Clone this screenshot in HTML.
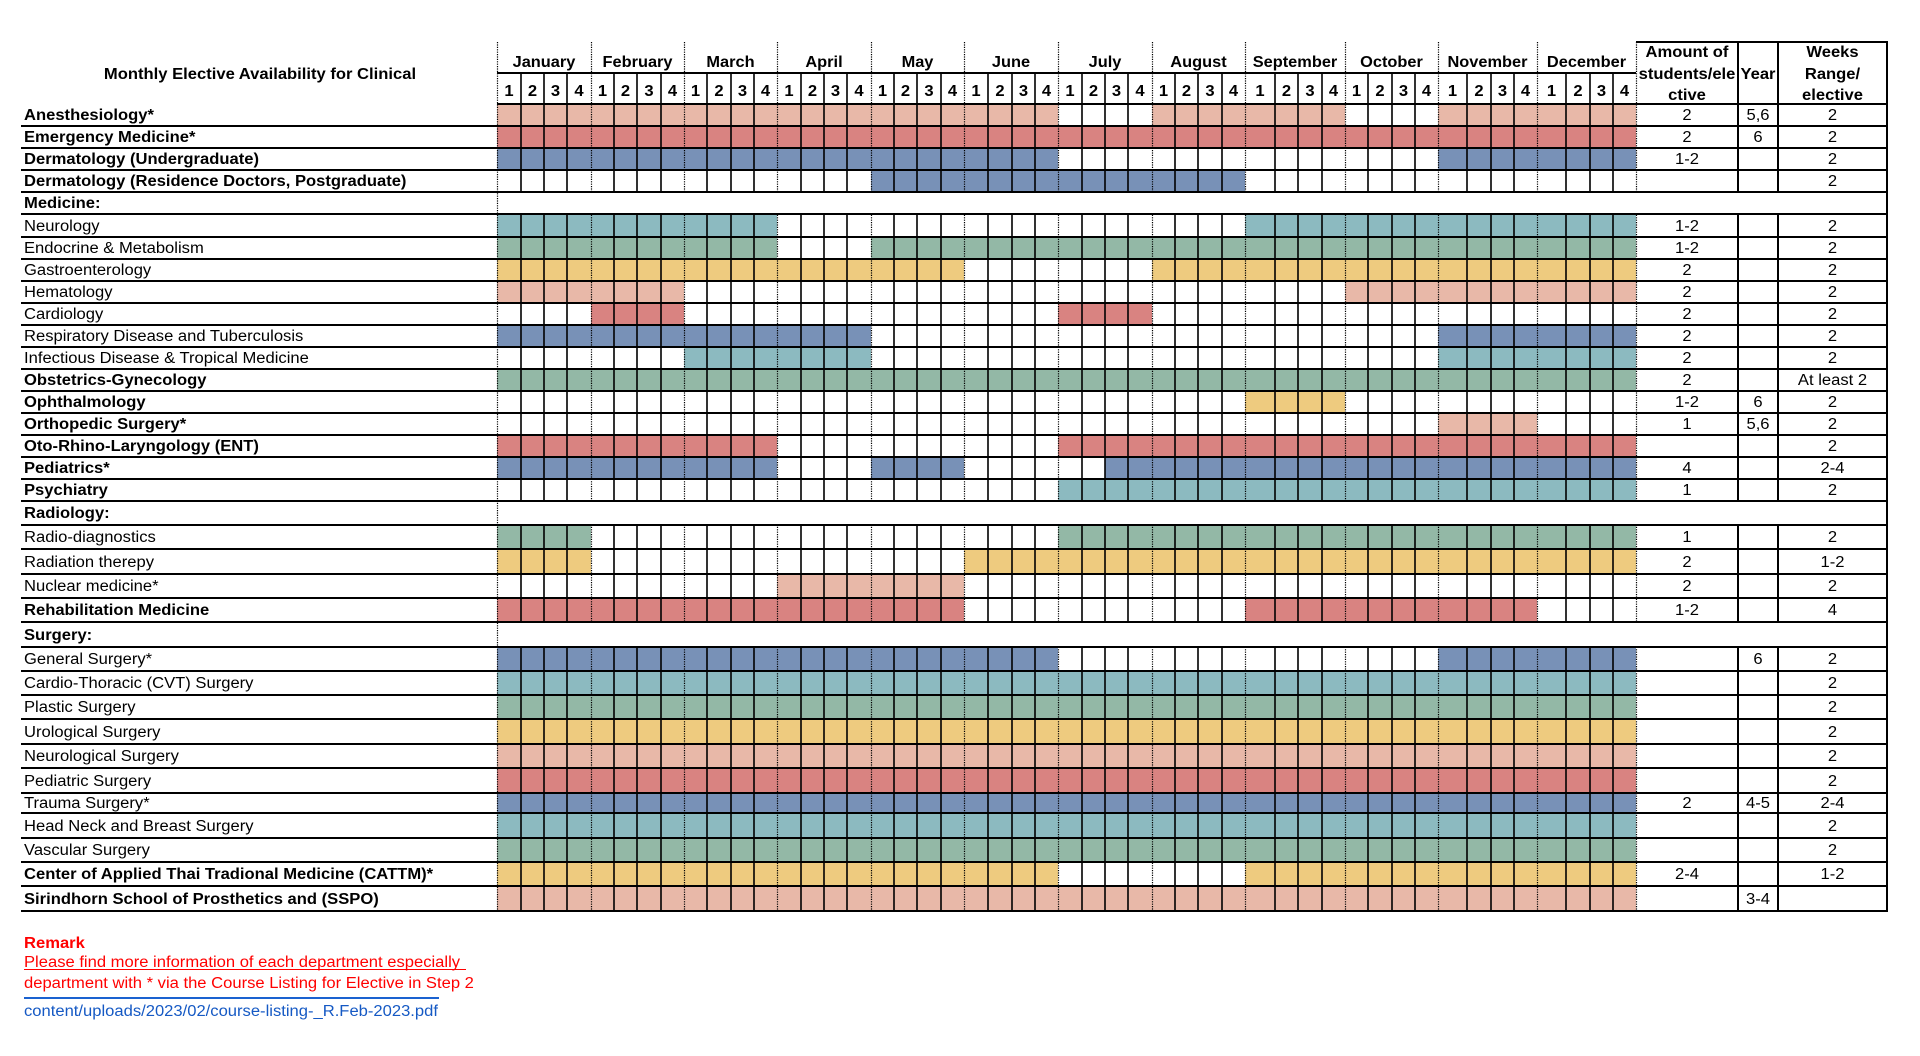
<!DOCTYPE html>
<html>
<head>
<meta charset="utf-8">
<style>
html,body{margin:0;padding:0;}
body{width:1920px;height:1056px;position:relative;overflow:hidden;background:#fff;font-family:"Liberation Sans",Arial,sans-serif;}
svg{position:absolute;left:0;top:0;}
.S{fill:#E8B8A8}.R{fill:#D98381}.B{fill:#7891B7}.T{fill:#8CBAC0}.G{fill:#93B8A6}.Y{fill:#EECB7F}
.t{position:absolute;white-space:nowrap;font-size:15.5px;line-height:15.5px;color:#000;transform:scaleX(1.07);margin-top:1px;}
.l{left:24px;transform-origin:0 50%;}
.c{text-align:center;transform-origin:50% 50%;}
.b{font-weight:bold;}
.m{font-size:15.3px;line-height:15.5px;top:54.5px;font-weight:bold;margin-top:0;}
.w{top:84.4px;font-weight:bold;margin-top:0;}
.a{left:1636px;width:102px;}
.y{left:1738px;width:40px;}
.k{left:1778px;width:109px;}
</style>
</head>
<body>
<svg width="1920" height="1056" viewBox="0 0 1920 1056">
<g>
<rect class="S" x="497" y="104" width="561" height="22"/><rect class="S" x="1152" y="104" width="193" height="22"/><rect class="S" x="1438" y="104" width="198" height="22"/>
<rect class="R" x="497" y="126" width="1139" height="22"/>
<rect class="B" x="497" y="148" width="561" height="22"/><rect class="B" x="1438" y="148" width="198" height="22"/>
<rect class="B" x="871" y="170" width="374" height="22"/>
<rect class="T" x="497" y="214" width="280" height="23"/><rect class="T" x="1245" y="214" width="391" height="23"/>
<rect class="G" x="497" y="237" width="280" height="22"/><rect class="G" x="871" y="237" width="765" height="22"/>
<rect class="Y" x="497" y="259" width="467" height="22"/><rect class="Y" x="1152" y="259" width="484" height="22"/>
<rect class="S" x="497" y="281" width="187" height="22"/><rect class="S" x="1345" y="281" width="291" height="22"/>
<rect class="R" x="591" y="303" width="93" height="22"/><rect class="R" x="1058" y="303" width="94" height="22"/>
<rect class="B" x="497" y="325" width="374" height="22"/><rect class="B" x="1438" y="325" width="198" height="22"/>
<rect class="T" x="684" y="347" width="187" height="22"/><rect class="T" x="1438" y="347" width="198" height="22"/>
<rect class="G" x="497" y="369" width="1139" height="22"/>
<rect class="Y" x="1245" y="391" width="100" height="22"/>
<rect class="S" x="1438" y="413" width="99" height="22"/>
<rect class="R" x="497" y="435" width="280" height="22"/><rect class="R" x="1058" y="435" width="578" height="22"/>
<rect class="B" x="497" y="457" width="280" height="22"/><rect class="B" x="871" y="457" width="93" height="22"/><rect class="B" x="1105" y="457" width="531" height="22"/>
<rect class="T" x="1058" y="479" width="578" height="22"/>
<rect class="G" x="497" y="525" width="94" height="24"/><rect class="G" x="1058" y="525" width="578" height="24"/>
<rect class="Y" x="497" y="549" width="94" height="25"/><rect class="Y" x="964" y="549" width="672" height="25"/>
<rect class="S" x="777" y="574" width="187" height="24"/>
<rect class="R" x="497" y="598" width="467" height="24"/><rect class="R" x="1245" y="598" width="292" height="24"/>
<rect class="B" x="497" y="647" width="561" height="24"/><rect class="B" x="1438" y="647" width="198" height="24"/>
<rect class="T" x="497" y="671" width="1139" height="24"/>
<rect class="G" x="497" y="695" width="1139" height="24"/>
<rect class="Y" x="497" y="719" width="1139" height="25"/>
<rect class="S" x="497" y="744" width="1139" height="24"/>
<rect class="R" x="497" y="768" width="1139" height="25"/>
<rect class="B" x="497" y="793" width="1139" height="20"/>
<rect class="T" x="497" y="813" width="1139" height="25"/>
<rect class="G" x="497" y="838" width="1139" height="24"/>
<rect class="Y" x="497" y="862" width="561" height="24"/><rect class="Y" x="1245" y="862" width="391" height="24"/>
<rect class="S" x="497" y="886" width="1139" height="25"/>
</g>
<path stroke="#000" stroke-width="1.6" fill="none" d="M521 73V911M544 73V911M567 73V911M614 73V911M637 73V911M661 73V911M707 73V911M731 73V911M754 73V911M801 73V911M824 73V911M847 73V911M894 73V911M917 73V911M941 73V911M988 73V911M1012 73V911M1035 73V911M1082 73V911M1105 73V911M1128 73V911M1175 73V911M1198 73V911M1222 73V911M1275 73V911M1298 73V911M1322 73V911M1368 73V911M1392 73V911M1415 73V911M1467 73V911M1491 73V911M1514 73V911M1566 73V911M1590 73V911M1613 73V911"/>
<path stroke="#000" stroke-width="1.2" stroke-dasharray="1.2 1.2" fill="none" d="M591.5 42V911M684.5 42V911M777.5 42V911M871.5 42V911M964.5 42V911M1058.5 42V911M1152.5 42V911M1245.5 42V911M1345.5 42V911M1438.5 42V911M1537.5 42V911M1636.5 42V911"/>
<path stroke="#000" stroke-width="2" fill="none" d="M1738 42V911M1778 42V911"/>
<rect x="498.5" y="193" width="1387.5" height="20" fill="#fff"/>
<rect x="498.5" y="502" width="1387.5" height="22" fill="#fff"/>
<rect x="498.5" y="623" width="1387.5" height="23" fill="#fff"/>
<path stroke="#000" stroke-width="1.2" stroke-dasharray="1.2 1.2" fill="none" d="M497.5 42V911"/>
<path stroke="#000" stroke-width="2" fill="none" d="M1887 41V912"/>
<path stroke="#000" stroke-width="2" fill="none" d="M1636 42H1888M497 73H1636M497 104H1888M21 126H1888M21 148H1888M21 170H1888M21 192H1888M21 214H1888M21 237H1888M21 259H1888M21 281H1888M21 303H1888M21 325H1888M21 347H1888M21 369H1888M21 391H1888M21 413H1888M21 435H1888M21 457H1888M21 479H1888M21 501H1888M21 525H1888M21 549H1888M21 574H1888M21 598H1888M21 622H1888M21 647H1888M21 671H1888M21 695H1888M21 719H1888M21 744H1888M21 768H1888M21 793H1888M21 813H1888M21 838H1888M21 862H1888M21 886H1888M21 911H1888"/>
</svg>

<div class="t c b" style="left:0;width:520px;top:65.8px">Monthly Elective Availability for Clinical</div>

<div class="t c m" style="left:497px;width:94px">January</div>
<div class="t c m" style="left:591px;width:93px">February</div>
<div class="t c m" style="left:684px;width:93px">March</div>
<div class="t c m" style="left:777px;width:94px">April</div>
<div class="t c m" style="left:871px;width:93px">May</div>
<div class="t c m" style="left:964px;width:94px">June</div>
<div class="t c m" style="left:1058px;width:94px">July</div>
<div class="t c m" style="left:1152px;width:93px">August</div>
<div class="t c m" style="left:1245px;width:100px">September</div>
<div class="t c m" style="left:1345px;width:93px">October</div>
<div class="t c m" style="left:1438px;width:99px">November</div>
<div class="t c m" style="left:1537px;width:99px">December</div>

<div class="t c w" style="left:497px;width:24px">1</div><div class="t c w" style="left:521px;width:23px">2</div><div class="t c w" style="left:544px;width:23px">3</div><div class="t c w" style="left:567px;width:24px">4</div>
<div class="t c w" style="left:591px;width:23px">1</div><div class="t c w" style="left:614px;width:23px">2</div><div class="t c w" style="left:637px;width:24px">3</div><div class="t c w" style="left:661px;width:23px">4</div>
<div class="t c w" style="left:684px;width:23px">1</div><div class="t c w" style="left:707px;width:24px">2</div><div class="t c w" style="left:731px;width:23px">3</div><div class="t c w" style="left:754px;width:23px">4</div>
<div class="t c w" style="left:777px;width:24px">1</div><div class="t c w" style="left:801px;width:23px">2</div><div class="t c w" style="left:824px;width:23px">3</div><div class="t c w" style="left:847px;width:24px">4</div>
<div class="t c w" style="left:871px;width:23px">1</div><div class="t c w" style="left:894px;width:23px">2</div><div class="t c w" style="left:917px;width:24px">3</div><div class="t c w" style="left:941px;width:23px">4</div>
<div class="t c w" style="left:964px;width:24px">1</div><div class="t c w" style="left:988px;width:24px">2</div><div class="t c w" style="left:1012px;width:23px">3</div><div class="t c w" style="left:1035px;width:23px">4</div>
<div class="t c w" style="left:1058px;width:24px">1</div><div class="t c w" style="left:1082px;width:23px">2</div><div class="t c w" style="left:1105px;width:23px">3</div><div class="t c w" style="left:1128px;width:24px">4</div>
<div class="t c w" style="left:1152px;width:23px">1</div><div class="t c w" style="left:1175px;width:23px">2</div><div class="t c w" style="left:1198px;width:24px">3</div><div class="t c w" style="left:1222px;width:23px">4</div>
<div class="t c w" style="left:1245px;width:30px">1</div><div class="t c w" style="left:1275px;width:23px">2</div><div class="t c w" style="left:1298px;width:24px">3</div><div class="t c w" style="left:1322px;width:23px">4</div>
<div class="t c w" style="left:1345px;width:23px">1</div><div class="t c w" style="left:1368px;width:24px">2</div><div class="t c w" style="left:1392px;width:23px">3</div><div class="t c w" style="left:1415px;width:23px">4</div>
<div class="t c w" style="left:1438px;width:29px">1</div><div class="t c w" style="left:1467px;width:24px">2</div><div class="t c w" style="left:1491px;width:23px">3</div><div class="t c w" style="left:1514px;width:23px">4</div>
<div class="t c w" style="left:1537px;width:29px">1</div><div class="t c w" style="left:1566px;width:24px">2</div><div class="t c w" style="left:1590px;width:23px">3</div><div class="t c w" style="left:1613px;width:23px">4</div>

<div class="t c b a" style="top:44px">Amount of</div>
<div class="t c b a" style="top:65.5px">students/ele</div>
<div class="t c b a" style="top:87px">ctive</div>
<div class="t c b y" style="top:65.5px">Year</div>
<div class="t c b k" style="top:44px">Weeks</div>
<div class="t c b k" style="top:65.5px">Range/</div>
<div class="t c b k" style="top:87px">elective</div>

<div class="t l b" style="top:104px;line-height:22px">Anesthesiology*</div>
<div class="t l b" style="top:126px;line-height:22px">Emergency Medicine*</div>
<div class="t l b" style="top:148px;line-height:22px">Dermatology (Undergraduate)</div>
<div class="t l b" style="top:170px;line-height:22px">Dermatology (Residence Doctors, Postgraduate)</div>
<div class="t l b" style="top:192px;line-height:22px">Medicine:</div>
<div class="t l" style="top:214px;line-height:23px">Neurology</div>
<div class="t l" style="top:237px;line-height:22px">Endocrine &amp; Metabolism</div>
<div class="t l" style="top:259px;line-height:22px">Gastroenterology</div>
<div class="t l" style="top:281px;line-height:22px">Hematology</div>
<div class="t l" style="top:303px;line-height:22px">Cardiology</div>
<div class="t l" style="top:325px;line-height:22px">Respiratory Disease and Tuberculosis</div>
<div class="t l" style="top:347px;line-height:22px">Infectious Disease &amp; Tropical Medicine</div>
<div class="t l b" style="top:369px;line-height:22px">Obstetrics-Gynecology</div>
<div class="t l b" style="top:391px;line-height:22px">Ophthalmology</div>
<div class="t l b" style="top:413px;line-height:22px">Orthopedic Surgery*</div>
<div class="t l b" style="top:435px;line-height:22px">Oto-Rhino-Laryngology (ENT)</div>
<div class="t l b" style="top:457px;line-height:22px">Pediatrics*</div>
<div class="t l b" style="top:479px;line-height:22px">Psychiatry</div>
<div class="t l b" style="top:501px;line-height:24px">Radiology:</div>
<div class="t l" style="top:525px;line-height:24px">Radio-diagnostics</div>
<div class="t l" style="top:549px;line-height:25px">Radiation therepy</div>
<div class="t l" style="top:574px;line-height:24px">Nuclear medicine*</div>
<div class="t l b" style="top:598px;line-height:24px">Rehabilitation Medicine</div>
<div class="t l b" style="top:622px;line-height:25px">Surgery:</div>
<div class="t l" style="top:647px;line-height:24px">General Surgery*</div>
<div class="t l" style="top:671px;line-height:24px">Cardio-Thoracic (CVT) Surgery</div>
<div class="t l" style="top:695px;line-height:24px">Plastic Surgery</div>
<div class="t l" style="top:719px;line-height:25px">Urological Surgery</div>
<div class="t l" style="top:744px;line-height:24px">Neurological Surgery</div>
<div class="t l" style="top:768px;line-height:25px">Pediatric Surgery</div>
<div class="t l" style="top:793px;line-height:20px">Trauma Surgery*</div>
<div class="t l" style="top:813px;line-height:25px">Head Neck and Breast Surgery</div>
<div class="t l" style="top:838px;line-height:24px">Vascular Surgery</div>
<div class="t l b" style="top:862px;line-height:24px">Center of Applied Thai Tradional Medicine (CATTM)*</div>
<div class="t l b" style="top:886px;line-height:25px">Sirindhorn School of Prosthetics and (SSPO)</div>

<div class="t c a" style="top:104px;line-height:22px">2</div><div class="t c y" style="top:104px;line-height:22px">5,6</div><div class="t c k" style="top:104px;line-height:22px">2</div>
<div class="t c a" style="top:126px;line-height:22px">2</div><div class="t c y" style="top:126px;line-height:22px">6</div><div class="t c k" style="top:126px;line-height:22px">2</div>
<div class="t c a" style="top:148px;line-height:22px">1-2</div><div class="t c k" style="top:148px;line-height:22px">2</div>
<div class="t c k" style="top:170px;line-height:22px">2</div>
<div class="t c a" style="top:214px;line-height:23px">1-2</div><div class="t c k" style="top:214px;line-height:23px">2</div>
<div class="t c a" style="top:237px;line-height:22px">1-2</div><div class="t c k" style="top:237px;line-height:22px">2</div>
<div class="t c a" style="top:259px;line-height:22px">2</div><div class="t c k" style="top:259px;line-height:22px">2</div>
<div class="t c a" style="top:281px;line-height:22px">2</div><div class="t c k" style="top:281px;line-height:22px">2</div>
<div class="t c a" style="top:303px;line-height:22px">2</div><div class="t c k" style="top:303px;line-height:22px">2</div>
<div class="t c a" style="top:325px;line-height:22px">2</div><div class="t c k" style="top:325px;line-height:22px">2</div>
<div class="t c a" style="top:347px;line-height:22px">2</div><div class="t c k" style="top:347px;line-height:22px">2</div>
<div class="t c a" style="top:369px;line-height:22px">2</div><div class="t c k" style="top:369px;line-height:22px">At least 2</div>
<div class="t c a" style="top:391px;line-height:22px">1-2</div><div class="t c y" style="top:391px;line-height:22px">6</div><div class="t c k" style="top:391px;line-height:22px">2</div>
<div class="t c a" style="top:413px;line-height:22px">1</div><div class="t c y" style="top:413px;line-height:22px">5,6</div><div class="t c k" style="top:413px;line-height:22px">2</div>
<div class="t c k" style="top:435px;line-height:22px">2</div>
<div class="t c a" style="top:457px;line-height:22px">4</div><div class="t c k" style="top:457px;line-height:22px">2-4</div>
<div class="t c a" style="top:479px;line-height:22px">1</div><div class="t c k" style="top:479px;line-height:22px">2</div>
<div class="t c a" style="top:525px;line-height:24px">1</div><div class="t c k" style="top:525px;line-height:24px">2</div>
<div class="t c a" style="top:549px;line-height:25px">2</div><div class="t c k" style="top:549px;line-height:25px">1-2</div>
<div class="t c a" style="top:574px;line-height:24px">2</div><div class="t c k" style="top:574px;line-height:24px">2</div>
<div class="t c a" style="top:598px;line-height:24px">1-2</div><div class="t c k" style="top:598px;line-height:24px">4</div>
<div class="t c y" style="top:647px;line-height:24px">6</div><div class="t c k" style="top:647px;line-height:24px">2</div>
<div class="t c k" style="top:671px;line-height:24px">2</div>
<div class="t c k" style="top:695px;line-height:24px">2</div>
<div class="t c k" style="top:719px;line-height:25px">2</div>
<div class="t c k" style="top:744px;line-height:24px">2</div>
<div class="t c k" style="top:768px;line-height:25px">2</div>
<div class="t c a" style="top:793px;line-height:20px">2</div><div class="t c y" style="top:793px;line-height:20px">4-5</div><div class="t c k" style="top:793px;line-height:20px">2-4</div>
<div class="t c k" style="top:813px;line-height:25px">2</div>
<div class="t c k" style="top:838px;line-height:24px">2</div>
<div class="t c a" style="top:862px;line-height:24px">2-4</div><div class="t c k" style="top:862px;line-height:24px">1-2</div>
<div class="t c y" style="top:886px;line-height:25px">3-4</div>

<div class="t l b" style="top:935.4px;color:#f00">Remark</div>
<div class="t l" style="top:954.2px;color:#f00">Please find more information of each department especially </div>
<div style="position:absolute;left:24px;top:969px;width:442px;height:1.3px;background:#f00"></div>
<div class="t l" style="top:975.2px;color:#f00">department with * via the Course Listing for Elective in Step 2</div>
<div style="position:absolute;left:24px;top:997px;width:415px;height:1.5px;background:#1a62d0"></div>
<div class="t l" style="top:1002.6px;color:#1559c4">content/uploads/2023/02/course-listing-_R.Feb-2023.pdf</div>
</body>
</html>
